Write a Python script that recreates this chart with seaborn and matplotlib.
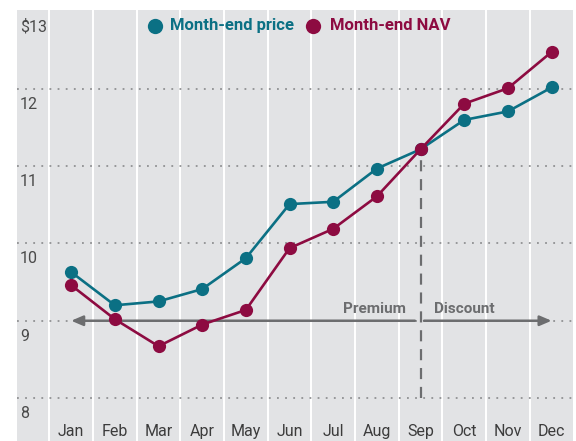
import matplotlib
matplotlib.use('Agg')
import matplotlib.pyplot as plt
import seaborn as sns
import pandas as pd

# Valores
meses = ['Jan', 'Feb', 'Mar', 'Apr', 'May', 'Jun', 'Jul', 'Aug', 'Sep', 'Oct', 'Nov', 'Dec']
preco = [9.63, 9.20, 9.25, 9.41, 9.81, 10.51, 10.54, 10.97, 11.22, 11.60, 11.71, 12.02]
nav = [9.46, 9.02, 8.67, 8.95, 9.14, 9.94, 10.19, 10.61, 11.22, 11.81, 12.01, 12.48]
series = ['Month-end price', 'Month-end NAV']
y_ticks = [8, 9, 10, 11, 12, 13]
y_labels = ['8', '9', '10', '11', '12', '$13']

cores = {'Month-end price': '#0b7084', 'Month-end NAV': '#8d0b41'}
cinza = '#6c6d6f'

df = pd.DataFrame({
    'mes': meses * 2,
    'valor': preco + nav,
    'serie': [series[0]] * len(meses) + [series[1]] * len(meses),
})

sns.set_style('white')
plt.rcParams['font.family'] = ['Roboto', 'DejaVu Sans']

fig = plt.figure(figsize=(5.76, 4.41), dpi=100)
ax = fig.add_axes([17 / 576, 0, 556 / 576, 431 / 441])
ax.set_facecolor('#e2e3e5')

sns.lineplot(data=df, x='mes', y='valor', hue='serie', hue_order=series,
             palette=cores, marker='o', markersize=9.5, markeredgewidth=0,
             linewidth=1.9, sort=False, legend=False, ax=ax, zorder=5)

ax.set_xlim(-1.24, 11.49)
ax.set_ylim(7.443, 13.023)

# grades
for i in range(len(meses)):
    ax.axvline(i - 0.5, color='white', lw=1.4, zorder=0)
for v in y_ticks[:-1]:
    ax.axhline(v, color='#8f9092', lw=1.3, ls=(0, (1, 3.5)), zorder=1)

# rótulos dentro da área
for i, m in enumerate(meses):
    ax.text(i, 7.56, m, ha='center', va='center', fontsize=11.5, color='#3c3c3c')
for v, lab in zip(y_ticks, y_labels):
    ax.text(-1.17, v - 0.2, lab, ha='left', va='center', fontsize=11.5, color='#4a4a4a')

ax.set_xticks([])
ax.set_yticks([])
ax.set_xlabel('')
ax.set_ylabel('')
for s in ax.spines.values():
    s.set_visible(False)

# linha vertical em setembro
i_sep = meses.index('Sep')
ax.vlines(i_sep, 8, preco[i_sep], color=cinza, lw=1.6, linestyles=(0, (5, 3.5)), zorder=3)

# setas premium / discount
ax.annotate('', xy=(0, 9), xytext=(7.87, 9),
            arrowprops=dict(arrowstyle='-|>,head_length=0.7,head_width=0.3', color=cinza, lw=1.8,
                            shrinkA=0, shrinkB=0), zorder=2)
ax.annotate('', xy=(11, 9), xytext=(8.08, 9),
            arrowprops=dict(arrowstyle='-|>,head_length=0.7,head_width=0.3', color=cinza, lw=1.8,
                            shrinkA=0, shrinkB=0), zorder=2)
ax.text(7.67, 9.15, 'Premium', ha='right', va='center', fontsize=11, fontweight='bold', color=cinza)
ax.text(8.31, 9.15, 'Discount', ha='left', va='center', fontsize=11, fontweight='bold', color=cinza)

# legenda manual
pos_leg = [(1.92, 2.27), (5.54, 5.92)]
for s, (xm, xt) in zip(series, pos_leg):
    ax.plot(xm, 12.82, 'o', ms=11, mew=0, color=cores[s], clip_on=False)
    ax.text(xt, 12.82, s, ha='left', va='center', fontsize=12, fontweight='bold', color=cores[s])

fig.savefig('out.png', dpi=100)
